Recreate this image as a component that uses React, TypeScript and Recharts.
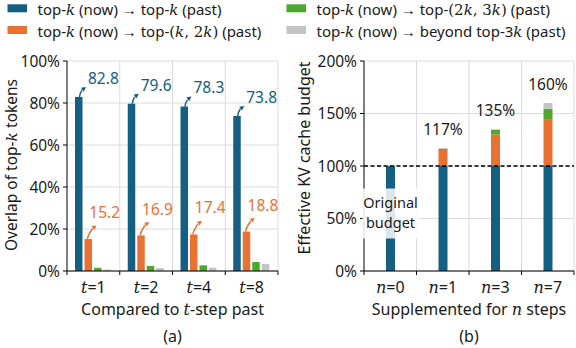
import React from 'react'
import { BarChart, Bar, XAxis, YAxis, CartesianGrid, LabelList, ReferenceLine } from 'recharts'

const BLUE = '#156082'
const ORANGE = '#E97132'
const GREEN = '#4EA72E'
const GREY = '#C4C4C4'
const INK = '#1a1a1a'
const GRID = '#dcdcdc'
const FONT = '"Noto Sans", "Open Sans", sans-serif'
const MATH = '"DejaVu Serif", "Liberation Serif", serif'

// (a) overlap of top-k tokens vs t-step past
const pastSteps = ['1', '2', '4', '8']
const topK = [82.8, 79.6, 78.3, 73.8]
const kTo2k = [15.2, 16.9, 17.4, 18.8]
const twoKTo3k = [1.5, 2.4, 2.7, 4.3]
const beyond3k = [0.7, 1.4, 1.6, 3.3]
const overlapTicks = [0, 20, 40, 60, 80, 100]

// (b) effective KV cache budget when supplemented for n steps
const suppSteps = ['0', '1', '3', '7']
const suppTopK = [100, 100, 100, 100]
const suppKTo2k = [0, 15.3, 30, 44]
const supp2kTo3k = [0, 1.2, 4.5, 10.5]
const suppBeyond = [0, 0.5, 0.5, 5.5]
const budgetTicks = [0, 50, 100, 150, 200]

const overlapData = pastSteps.map((t, i) => ({ t, a: topK[i], b: kTo2k[i], c: twoKTo3k[i], d: beyond3k[i] }))
const budgetData = suppSteps.map((n, i) => ({
  n, a: suppTopK[i], b: suppKTo2k[i], c: supp2kTo3k[i], d: suppBeyond[i],
  total: suppTopK[i] + suppKTo2k[i] + supp2kTo3k[i] + suppBeyond[i],
}))
type BudgetRow = typeof budgetData[number]

const H = 348
const A = { w: 290, margin: { top: 61, right: 12, bottom: 47, left: 17 } }
const B = { w: 286, margin: { top: 61, right: 2, bottom: 47, left: 24 } }
const Y_W = 50
const X_H = 30
const bandOf = (c: typeof A) => (c.w - c.margin.left - c.margin.right - Y_W) / 4

const K = ({ children = 'k' }: { children?: React.ReactNode }) => (
  <tspan fontFamily={MATH} fontStyle="italic">{children}</tspan>
)

const boxOf = (props: any) => {
  const vb = props.viewBox || props
  return { x: vb.x ?? props.x, y: vb.y ?? props.y, width: vb.width ?? props.width, height: vb.height ?? props.height }
}

function StepTick(props: any) {
  const { x, y, payload, index, sym, band } = props
  const x0 = x - band / 2
  const x1 = x + band / 2
  return (
    <g>
      <line x1={x0} x2={x0} y1={y - 4} y2={y} stroke="#000" />
      {index === 3 && <line x1={x1} x2={x1} y1={y - 4} y2={y} stroke="#000" />}
      <text x={x} y={y + 18} textAnchor="middle" fontSize={16} fill={INK} fontFamily={FONT}>
        <K>{sym}</K>={payload.value}
      </text>
    </g>
  )
}

function ArrowLabel(props: any) {
  const { color, kind, value } = props
  const { x, y, width } = boxOf(props)
  const right = x + width
  const big = kind === 'big'
  const sx = right - (big ? 3 : 4.5)
  const sy = y
  const ex = right + (big ? 3.5 : 4.5)
  const ey = y - (big ? 10 : 13.5)
  const cx = ex - 3.5
  const cy = ey + 2.5
  const dx = ex - cx
  const dy = ey - cy
  const len = Math.hypot(dx, dy)
  const ux = dx / len
  const uy = dy / len
  const hl = 4.5
  const hw = 2.4
  const bx = ex - ux * hl
  const by = ey - uy * hl
  const head = `M${ex},${ey} L${bx - uy * hw},${by + ux * hw} L${bx + uy * hw},${by - ux * hw} Z`
  return (
    <g>
      <path d={`M${sx},${sy} C${sx},${sy - 4} ${cx},${cy} ${bx},${by}`} fill="none" stroke={color} strokeWidth={1.5} />
      <path d={head} fill={color} />
      <text
        x={big ? right + 5.5 : right - 2.7}
        y={big ? y - 13.3 : y - 21}
        fontSize={15.5}
        fill={color}
        fontFamily={FONT}
      >
        {Number(value).toFixed(1)}
      </text>
    </g>
  )
}

// total budget above each stack: the orange segment gives px-per-unit, then step up past green and grey
function TotalLabel(props: any) {
  const row = props.value as BudgetRow
  if (!row || typeof row !== 'object' || !row.b || row.total <= row.a) return null
  const { x, y, width, height } = boxOf(props)
  const perUnit = height / row.b
  const top = y - (row.c + row.d) * perUnit
  return (
    <text x={x + width / 2} y={top - 13} textAnchor="middle" fontSize={15.5} fill={INK} fontFamily={FONT}>
      {Math.round(row.total)}%
    </text>
  )
}

function OriginalLabel(props: any) {
  const { index } = props
  if (suppSteps[index] !== '0') return null
  const { x, y, width } = boxOf(props)
  const mid = x + width / 2
  return (
    <g>
      <rect x={mid - 28} y={y + 22.5} width={56} height={50} fill="#ffffff" fillOpacity={0.85} />
      <text textAnchor="middle" fontSize={14.5} fill={INK} fontFamily={FONT}>
        <tspan x={mid} y={y + 41.5}>Original</tspan>
        <tspan x={mid} y={y + 61.5}>budget</tspan>
      </text>
    </g>
  )
}

const gridGen = ({ offset }: any) => [1, 2, 3, 4].map(i => offset.left + offset.width * i / 4)

const legendItems = [
  { color: BLUE, x: 7.5, y: 4.3, label: <>top-<K /> (now) → top-<K /> (past)</> },
  { color: ORANGE, x: 7.5, y: 26, label: <>top-<K /> (now) → top-<tspan fontFamily={MATH}>(<K />, 2<K />)</tspan> (past)</> },
  { color: GREEN, x: 286.5, y: 4.3, label: <>top-<K /> (now) → top-<tspan fontFamily={MATH}>(2<K />, 3<K />)</tspan> (past)</> },
  { color: GREY, x: 286.5, y: 26, label: <>top-<K /> (now) → beyond top-3<K /> (past)</> },
]

const tickStyle = { fontSize: 15.5, fill: INK, fontFamily: FONT }

export default function App() {
  return (
    <div style={{ position: 'absolute', left: 0, top: 0, width: 576, height: H, background: '#fff', fontFamily: FONT }}>
      <div style={{ position: 'absolute', left: 0, top: 0 }}>
        <BarChart width={A.w} height={H} data={overlapData} margin={A.margin} barSize={7.5} barGap={2}>
          <CartesianGrid stroke={GRID} verticalCoordinatesGenerator={gridGen} />
          <XAxis
            dataKey="t" height={X_H} interval={0} axisLine={{ stroke: '#000' }} tickLine={false} tickSize={4} tickMargin={0}
            tick={(p: any) => <StepTick {...p} sym="t" band={bandOf(A)} />}
          />
          <YAxis
            width={Y_W} domain={[0, 100]} ticks={overlapTicks} interval={0} axisLine={{ stroke: '#000' }}
            tickLine={{ stroke: '#000' }} tickSize={4} tickMargin={3}
            tick={tickStyle} tickFormatter={(v: number) => `${v}%`}
          />
          <Bar dataKey="a" fill={BLUE} isAnimationActive={false}>
            <LabelList dataKey="a" content={(p: any) => <ArrowLabel {...p} color={BLUE} kind="big" />} />
          </Bar>
          <Bar dataKey="b" fill={ORANGE} isAnimationActive={false}>
            <LabelList dataKey="b" content={(p: any) => <ArrowLabel {...p} color={ORANGE} kind="small" />} />
          </Bar>
          <Bar dataKey="c" fill={GREEN} isAnimationActive={false} />
          <Bar dataKey="d" fill={GREY} isAnimationActive={false} />
        </BarChart>
      </div>
      <div style={{ position: 'absolute', left: 290, top: 0 }}>
        <BarChart width={B.w} height={H} data={budgetData} margin={B.margin} barSize={9}>
          <CartesianGrid stroke={GRID} verticalCoordinatesGenerator={gridGen} />
          <XAxis
            dataKey="n" height={X_H} interval={0} axisLine={{ stroke: '#000' }} tickLine={false} tickSize={4} tickMargin={0}
            tick={(p: any) => <StepTick {...p} sym="n" band={bandOf(B)} />}
          />
          <YAxis
            width={Y_W} domain={[0, 200]} ticks={budgetTicks} interval={0} axisLine={{ stroke: '#000' }}
            tickLine={{ stroke: '#000' }} tickSize={4} tickMargin={3}
            tick={tickStyle} tickFormatter={(v: number) => `${v}%`}
          />
          <Bar dataKey="a" stackId="s" fill={BLUE} isAnimationActive={false}>
            <LabelList dataKey="a" content={(p: any) => <OriginalLabel {...p} />} />
          </Bar>
          <Bar dataKey="b" stackId="s" fill={ORANGE} isAnimationActive={false}>
            <LabelList dataKey={(row: BudgetRow) => row} content={(p: any) => <TotalLabel {...p} />} />
          </Bar>
          <Bar dataKey="c" stackId="s" fill={GREEN} isAnimationActive={false} />
          <Bar dataKey="d" stackId="s" fill={GREY} isAnimationActive={false} />
          <ReferenceLine y={100} stroke="#000" strokeWidth={1.5} strokeDasharray="4 2.5" />
        </BarChart>
      </div>
      <svg width={576} height={H} style={{ position: 'absolute', left: 0, top: 0, pointerEvents: 'none' }} fontFamily={FONT} fill={INK}>
        {legendItems.map((it, i) => (
          <g key={i}>
            <rect x={it.x} y={it.y} width={19.5} height={8} fill={it.color} />
            <text x={it.x + 30} y={it.y + 11} fontSize={15}>{it.label}</text>
          </g>
        ))}
        <text transform="translate(17,165) rotate(-90)" textAnchor="middle" fontSize={15.5}>
          Overlap of top-<K /> tokens
        </text>
        <text transform="translate(309.5,158) rotate(-90)" textAnchor="middle" fontSize={16}>
          Effective KV cache budget
        </text>
        <text x={172.5} y={315} textAnchor="middle" fontSize={16}>Compared to <K>t</K>-step past</text>
        <text x={469} y={315} textAnchor="middle" fontSize={16}>Supplemented for <K>n</K> steps</text>
        <text x={172.5} y={342} textAnchor="middle" fontSize={16}>(a)</text>
        <text x={469} y={342} textAnchor="middle" fontSize={16}>(b)</text>
      </svg>
    </div>
  )
}
